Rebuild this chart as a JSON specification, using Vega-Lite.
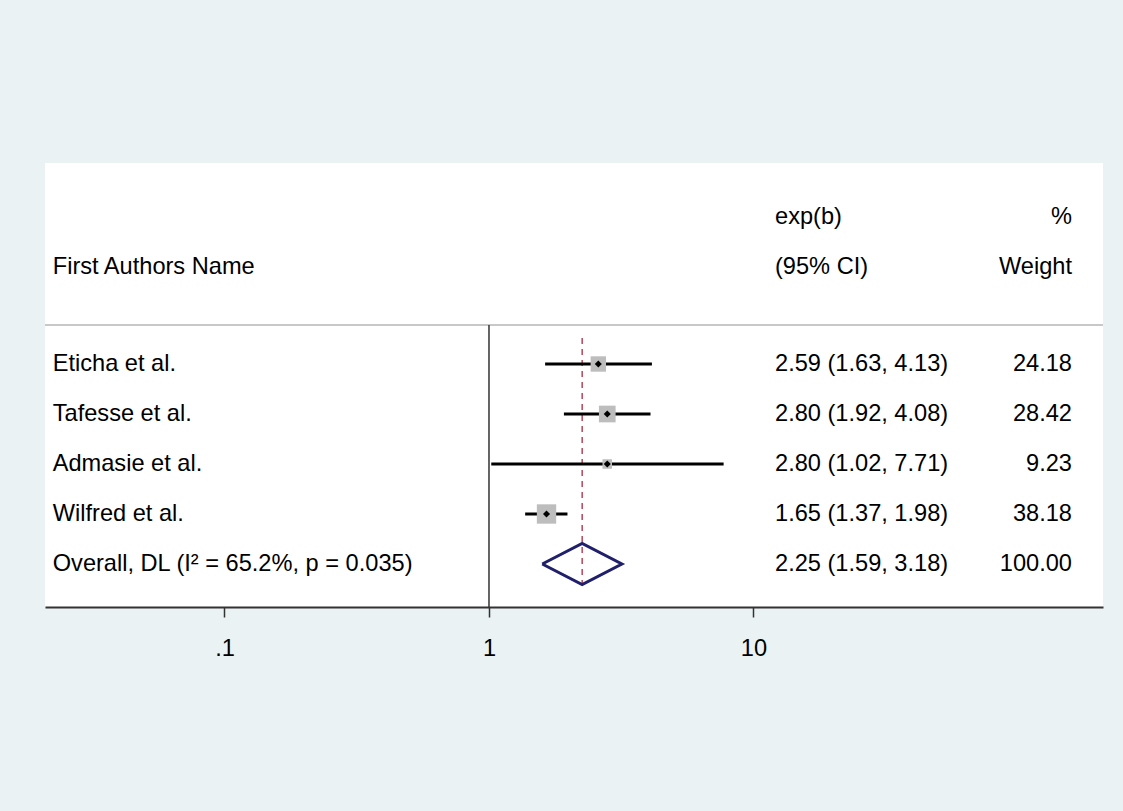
{
  "$schema": "https://vega.github.io/schema/vega-lite/v6.json",
  "width": 1058,
  "height": 444,
  "autosize": {"type": "none"},
  "padding": {"left": 45, "top": 163, "right": 20, "bottom": 204},
  "background": "#EAF2F3",
  "config": {
    "view": {"stroke": null, "fill": "white"},
    "text": {"font": "Liberation Sans", "fontSize": 23.6, "color": "black", "baseline": "middle"}
  },
  "datasets": {
    "studies": [
      {"study": "Eticha et al.", "row": 1, "es": 2.59, "lo": 1.63, "hi": 4.13, "w": 24.18, "ci": "2.59 (1.63, 4.13)", "wt": "24.18"},
      {"study": "Tafesse et al.", "row": 2, "es": 2.80, "lo": 1.92, "hi": 4.08, "w": 28.42, "ci": "2.80 (1.92, 4.08)", "wt": "28.42"},
      {"study": "Admasie et al.", "row": 3, "es": 2.80, "lo": 1.02, "hi": 7.71, "w": 9.23, "ci": "2.80 (1.02, 7.71)", "wt": "9.23"},
      {"study": "Wilfred et al.", "row": 4, "es": 1.65, "lo": 1.37, "hi": 1.98, "w": 38.18, "ci": "1.65 (1.37, 1.98)", "wt": "38.18"},
      {"study": "Overall, DL (I² = 65.2%, p = 0.035)", "row": 5, "es": 2.25, "lo": 1.59, "hi": 3.18, "w": 100, "ci": "2.25 (1.59, 3.18)", "wt": "100.00"}
    ],
    "header": [
      {"row": -1.94, "left": "", "mid": "exp(b)", "right": "%"},
      {"row": -0.94, "left": "First Authors Name", "mid": "(95% CI)", "right": "Weight"}
    ],
    "diamond": [
      {"v": 1.59, "r": 5, "o": 1},
      {"v": 2.25, "r": 4.59, "o": 2},
      {"v": 3.18, "r": 5, "o": 3},
      {"v": 2.25, "r": 5.41, "o": 4},
      {"v": 1.59, "r": 5, "o": 5}
    ]
  },
  "encoding": {
    "x": {"type": "quantitative", "scale": {"type": "log", "domain": [0.02096, 209.6], "nice": false}},
    "y": {"type": "quantitative", "scale": {"domain": [-3.02, 5.86], "reverse": true, "nice": false, "zero": false}, "axis": null}
  },
  "layer": [
    {
      "data": {"values": [{}]},
      "mark": {"type": "rule", "color": "#C8C8C8", "strokeWidth": 2},
      "encoding": {"y": {"datum": 0.22}}
    },
    {
      "data": {"values": [{}]},
      "mark": {"type": "rule", "color": "#333333", "strokeWidth": 1.5},
      "encoding": {
        "x": {"datum": 1, "axis": {"values": [0.1, 1, 10], "labelExpr": "datum.value == 0.1 ? '.1' : datum.label", "grid": false, "title": null, "domainColor": "#333333", "domainWidth": 2, "tickColor": "#333333", "tickWidth": 1.5, "tickSize": 10, "labelFont": "Liberation Sans", "labelFontSize": 23.6, "labelColor": "black", "labelPadding": 19}},
        "y": {"datum": 0.22},
        "y2": {"datum": 5.86}
      }
    },
    {
      "data": {"values": [{}]},
      "mark": {"type": "rule", "color": "#A3182E", "strokeWidth": 1.2, "strokeDash": [6, 5]},
      "encoding": {"x": {"datum": 2.25}, "y": {"datum": 0.48}, "y2": {"datum": 5.4}}
    },
    {
      "data": {"name": "studies"},
      "transform": [{"filter": "datum.row < 5"}],
      "mark": {"type": "rule", "color": "black", "strokeWidth": 3},
      "encoding": {"x": {"field": "lo"}, "x2": {"field": "hi"}, "y": {"field": "row"}}
    },
    {
      "data": {"name": "studies"},
      "transform": [{"filter": "datum.row < 5"}],
      "mark": {"type": "point", "shape": "square", "filled": true, "color": "#BDBDBD", "opacity": 1},
      "encoding": {
        "x": {"field": "es"},
        "y": {"field": "row"},
        "size": {"field": "w", "type": "quantitative", "scale": {"type": "linear", "domain": [0, 100], "range": [0, 980]}, "legend": null}
      }
    },
    {
      "data": {"name": "studies"},
      "transform": [{"filter": "datum.row < 5"}],
      "mark": {"type": "point", "shape": "diamond", "filled": true, "color": "black", "opacity": 1, "size": 50},
      "encoding": {"x": {"field": "es"}, "y": {"field": "row"}}
    },
    {
      "data": {"name": "diamond"},
      "mark": {"type": "line", "color": "#1F1F6B", "strokeWidth": 3, "strokeJoin": "miter"},
      "encoding": {"x": {"field": "v"}, "y": {"field": "r"}, "order": {"field": "o"}}
    },
    {
      "data": {"name": "studies"},
      "mark": {"type": "text", "align": "left"},
      "encoding": {"x": {"datum": 0.02242}, "y": {"field": "row"}, "text": {"field": "study"}}
    },
    {
      "data": {"name": "studies"},
      "mark": {"type": "text", "align": "left"},
      "encoding": {"x": {"datum": 12.06}, "y": {"field": "row"}, "text": {"field": "ci"}}
    },
    {
      "data": {"name": "studies"},
      "mark": {"type": "text", "align": "right"},
      "encoding": {"x": {"datum": 160}, "y": {"field": "row"}, "text": {"field": "wt"}}
    },
    {
      "data": {"name": "header"},
      "mark": {"type": "text", "align": "left"},
      "encoding": {"x": {"datum": 0.02242}, "y": {"field": "row"}, "text": {"field": "left"}}
    },
    {
      "data": {"name": "header"},
      "mark": {"type": "text", "align": "left"},
      "encoding": {"x": {"datum": 12.06}, "y": {"field": "row"}, "text": {"field": "mid"}}
    },
    {
      "data": {"name": "header"},
      "mark": {"type": "text", "align": "right"},
      "encoding": {"x": {"datum": 160}, "y": {"field": "row"}, "text": {"field": "right"}}
    }
  ]
}
